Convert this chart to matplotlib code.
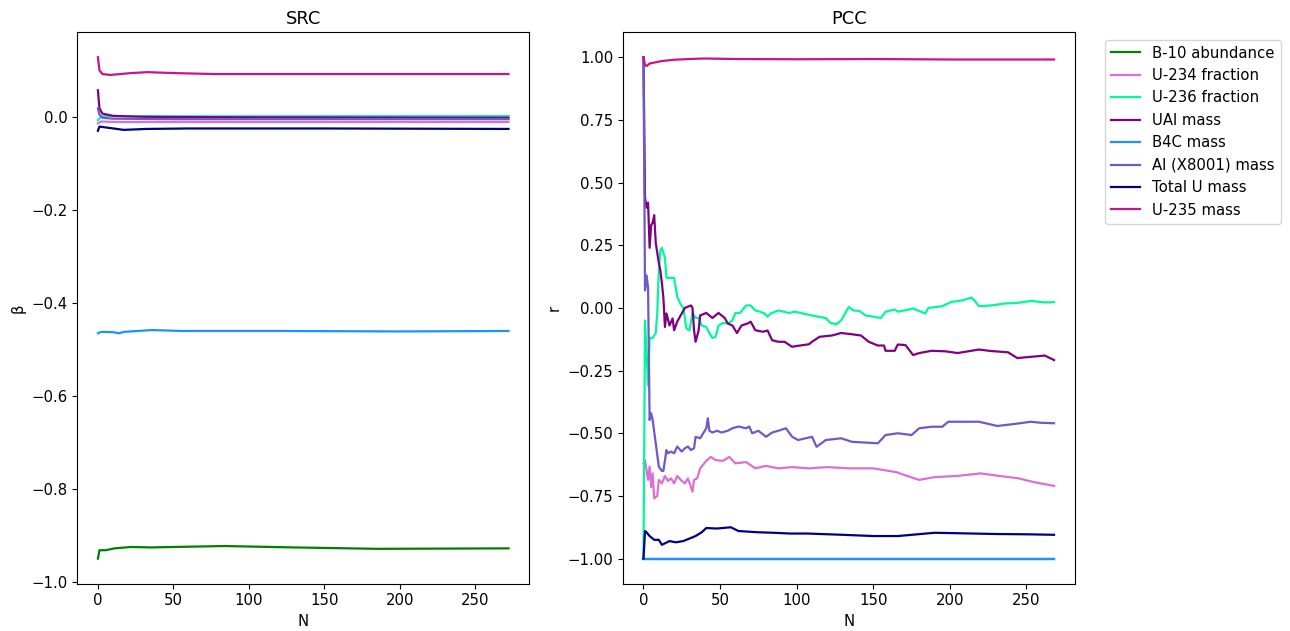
import matplotlib
matplotlib.use('Agg')
import matplotlib.pyplot as plt

plt.rcParams['font.size'] = 10.7

labels = ['B-10 abundance', 'U-234 fraction', 'U-236 fraction', 'UAl mass',
          'B4C mass', 'Al (X8001) mass', 'Total U mass', 'U-235 mass']
colors = ['green', 'orchid', 'mediumspringgreen', 'purple',
          'dodgerblue', 'slateblue', 'navy', 'mediumvioletred']

## SRC (standardised regression coefficients) vs number of samples
src_n_b10 = [0, 1, 5, 11, 22, 35, 50, 84, 130, 185, 272]
src_b10 = [-0.949, -0.931, -0.931, -0.927, -0.924, -0.925, -0.924, -0.922, -0.925, -0.928, -0.927]
src_n_u234 = [0, 2, 10, 272]
src_u234 = [-0.014, -0.010, -0.011, -0.011]
src_n_u236 = [0, 2, 5, 50, 272]
src_u236 = [-0.007, 0.000, 0.002, 0.001, 0.0015]
src_n_ual = [0, 1, 3, 10, 30, 100, 272]
src_ual = [0.057, 0.018, 0.007, 0.002, 0.000, -0.001, -0.002]
src_n_b4c = [0, 2, 5, 11, 14, 17, 36, 55, 120, 200, 272]
src_b4c = [-0.465, -0.462, -0.462, -0.463, -0.465, -0.462, -0.458, -0.460, -0.460, -0.461, -0.460]
src_n_al = [0, 1, 3, 10, 50, 272]
src_al = [0.018, 0.005, -0.002, -0.004, -0.005, -0.005]
src_n_totu = [0, 1, 8, 17, 32, 60, 150, 272]
src_totu = [-0.030, -0.021, -0.024, -0.028, -0.026, -0.025, -0.025, -0.026]
src_n_u235 = [0, 1, 3, 8, 15, 22, 33, 50, 76, 150, 272]
src_u235 = [0.128, 0.100, 0.092, 0.090, 0.092, 0.094, 0.096, 0.094, 0.092, 0.092, 0.092]

## PCC (pearson correlation) vs number of samples
pcc_n_b10 = [0, 268]
pcc_b10 = [-1.0, -1.0]
pcc_n_u234 = [0, 1, 3, 4, 5, 6, 7, 9, 10, 12, 14, 16, 18, 20, 22, 25, 27, 29, 32, 33,
              35, 37, 41, 44, 47, 52, 56, 60, 67, 73, 80, 88, 97, 108, 120, 134, 150, 165, 172, 180,
              190, 205, 220, 232, 245, 255, 268]
pcc_u234 = [-0.62, -0.607, -0.686, -0.633, -0.715, -0.66, -0.76, -0.75, -0.686, -0.70,
            -0.67, -0.69, -0.68, -0.70, -0.67, -0.69, -0.70, -0.68, -0.733, -0.686,
            -0.68, -0.64, -0.61, -0.594, -0.607, -0.61, -0.594, -0.62, -0.615, -0.64,
            -0.63, -0.64, -0.635, -0.64, -0.635, -0.64, -0.64, -0.655, -0.67, -0.686,
            -0.675, -0.67, -0.66, -0.67, -0.68, -0.695, -0.71]
pcc_n_u236 = [0, 1, 3, 4, 6, 8, 9, 10, 11, 12, 14, 15, 17, 20, 22, 24, 26, 28, 30, 32,
              34, 36, 38, 41, 43, 45, 47, 49, 52, 55, 58, 60, 63, 67, 70, 73, 76, 79, 81, 83,
              88, 95, 99, 104, 110, 115, 119, 122, 126, 129, 134, 137, 141, 145, 151, 155, 158, 164, 166, 172,
              176, 179, 184, 186, 195, 201, 208, 214, 216, 219, 227, 236, 244, 253, 262, 268]
pcc_u236 = [-1.0, -0.05, -0.31, -0.12, -0.12, -0.10, -0.02, 0.15, 0.23, 0.24,
            0.20, 0.12, 0.12, 0.12, 0.044, 0.018, 0.0, -0.082, -0.09, -0.02,
            -0.04, -0.04, -0.07, -0.076, -0.10, -0.12, -0.115, -0.07, -0.06, -0.062,
            -0.05, -0.02, -0.02, 0.01, 0.01, -0.01, -0.015, -0.022, -0.035, -0.022,
            -0.01, -0.02, -0.015, -0.022, -0.03, -0.036, -0.04, -0.06, -0.065, -0.05,
            0.004, -0.01, -0.012, -0.03, -0.036, -0.04, -0.015, -0.006, -0.015, -0.008,
            -0.002, -0.01, -0.022, 0.0, 0.007, 0.024, 0.03, 0.041, 0.03, 0.007,
            0.01, 0.018, 0.02, 0.028, 0.022, 0.023]
pcc_n_ual = [0, 1, 2, 3, 4, 5, 6, 7, 8, 10, 11, 12, 13, 14, 15, 17, 19, 20, 22, 25,
             27, 31, 32, 33, 34, 36, 37, 41, 43, 45, 47, 49, 53, 55, 58, 61, 64, 68, 70, 73,
             78, 81, 84, 88, 92, 97, 101, 108, 110, 115, 123, 129, 136, 142, 147, 153, 157, 158, 164, 166,
             171, 176, 180, 188, 197, 205, 210, 219, 227, 238, 244, 253, 262, 268]
pcc_ual = [1.0, 0.44, 0.40, 0.42, 0.24, 0.33, 0.34, 0.37, 0.26, 0.18,
           0.15, 0.10, 0.04, -0.076, -0.022, -0.07, -0.042, -0.089, -0.055, -0.022,
           0.0, 0.01, 0.0, -0.089, -0.135, -0.09, -0.03, -0.02, -0.03, -0.04,
           -0.03, -0.02, -0.04, -0.062, -0.07, -0.10, -0.07, -0.062, -0.055, -0.089,
           -0.095, -0.09, -0.129, -0.135, -0.135, -0.155, -0.151, -0.145, -0.135, -0.115,
           -0.11, -0.10, -0.105, -0.11, -0.135, -0.15, -0.15, -0.171, -0.171, -0.146,
           -0.148, -0.188, -0.18, -0.171, -0.173, -0.18, -0.175, -0.166, -0.172, -0.177,
           -0.20, -0.195, -0.19, -0.208]
pcc_n_b4c = [0, 268]
pcc_b4c = [-1.0, -1.0]
pcc_n_al = [0, 1, 2, 3, 4, 5, 6, 8, 10, 12, 13, 15, 16, 18, 20, 22, 25, 27, 29, 31,
            33, 34, 37, 41, 42, 43, 45, 48, 51, 55, 58, 62, 67, 69, 71, 75, 80, 84, 88, 93,
            97, 101, 110, 113, 119, 129, 136, 153, 158, 166, 175, 180, 188, 195, 199, 210, 219, 231, 242, 253,
            259, 268]
pcc_al = [1.0, 0.07, 0.13, 0.08, -0.447, -0.42, -0.447, -0.54, -0.633, -0.65,
          -0.65, -0.567, -0.58, -0.573, -0.58, -0.553, -0.573, -0.56, -0.553, -0.567,
          -0.56, -0.514, -0.52, -0.48, -0.44, -0.49, -0.497, -0.49, -0.497, -0.49,
          -0.48, -0.473, -0.48, -0.473, -0.50, -0.49, -0.514, -0.497, -0.49, -0.48,
          -0.514, -0.527, -0.514, -0.554, -0.527, -0.52, -0.534, -0.54, -0.507, -0.50,
          -0.507, -0.48, -0.474, -0.474, -0.454, -0.454, -0.454, -0.471, -0.463, -0.454,
          -0.458, -0.46]
pcc_n_totu = [0, 1, 2, 4, 7, 10, 12, 17, 21, 26, 30, 34, 38, 41, 48, 57, 62, 75, 85, 96,
              107, 130, 150, 166, 190, 199, 215, 231, 250, 268]
pcc_totu = [-1.0, -0.89, -0.895, -0.91, -0.925, -0.925, -0.945, -0.93, -0.935, -0.93,
            -0.92, -0.91, -0.895, -0.878, -0.88, -0.875, -0.89, -0.895, -0.897, -0.90,
            -0.90, -0.905, -0.91, -0.91, -0.897, -0.898, -0.90, -0.902, -0.903, -0.905]
pcc_n_u235 = [0, 1, 2, 4, 8, 12, 20, 30, 40, 60, 100, 150, 200, 268]
pcc_u235 = [1.0, 0.97, 0.965, 0.975, 0.98, 0.985, 0.99, 0.993, 0.995, 0.993, 0.992, 0.993, 0.991, 0.991]

src = [(src_n_b10, src_b10), (src_n_u234, src_u234), (src_n_u236, src_u236), (src_n_ual, src_ual),
       (src_n_b4c, src_b4c), (src_n_al, src_al), (src_n_totu, src_totu), (src_n_u235, src_u235)]
pcc = [(pcc_n_b10, pcc_b10), (pcc_n_u234, pcc_u234), (pcc_n_u236, pcc_u236), (pcc_n_ual, pcc_ual),
       (pcc_n_b4c, pcc_b4c), (pcc_n_al, pcc_al), (pcc_n_totu, pcc_totu), (pcc_n_u235, pcc_u235)]

fig, (ax1, ax2) = plt.subplots(1, 2, figsize=(12.9, 6.31), dpi=100)
fig.subplots_adjust(left=0.06, right=0.833, bottom=0.075, top=0.949, wspace=0.208)

for (n, v), c, lab in zip(src, colors, labels):
    ax1.plot(n, v, color=c, lw=1.6, label=lab)
ax1.set_title('SRC')
ax1.set_xlabel('N')
ax1.set_ylabel('β')

for (n, v), c, lab in zip(pcc, colors, labels):
    ax2.plot(n, v, color=c, lw=1.6, label=lab)
ax2.set_title('PCC')
ax2.set_xlabel('N')
ax2.set_ylabel('r')
ax2.legend(bbox_to_anchor=(1.05, 1), loc='upper left')

plt.savefig('out.png')
